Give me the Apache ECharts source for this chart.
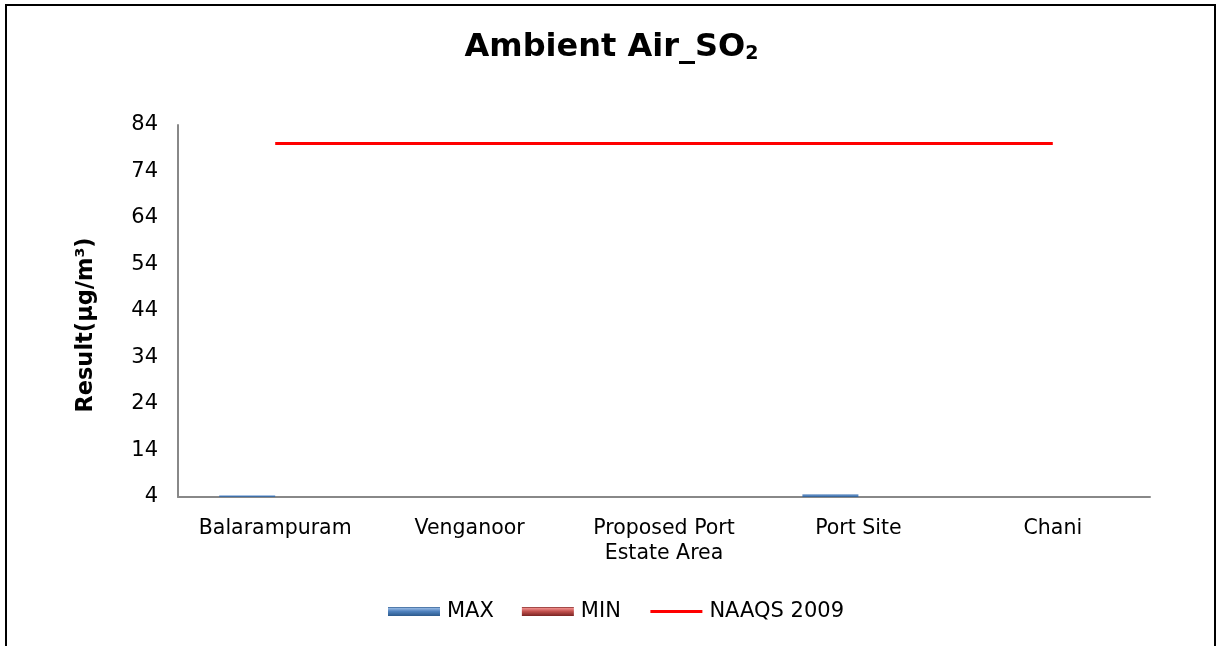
<!DOCTYPE html>
<html>
<head>
<meta charset="utf-8">
<script src="https://cdn.jsdelivr.net/npm/echarts@6/dist/echarts.min.js"></script>
<style>
html,body{margin:0;padding:0;background:#fff;}
#c{width:1223px;height:646px;}
</style>
</head>
<body>
<div id="c"></div>
<script>
const categories = ['Balarampuram', 'Venganoor', 'Proposed Port\nEstate Area', 'Port Site', 'Chani'];
const maxValues = [4.4, 4, 4, 4.6, 4];
const minValues = [4, 4, 4, 4, 4];
const naaqsValues = [80, 80, 80, 80, 80];
const yTicks = [4, 14, 24, 34, 44, 54, 64, 74, 84];

const FONT = '"DejaVu Sans", Verdana, sans-serif';
const chart = echarts.init(document.getElementById('c'), null, {renderer: 'canvas'});

function barGrad(light, mid, dark) {
  return new echarts.graphic.LinearGradient(0, 0, 0, 1, [
    {offset: 0, color: dark},
    {offset: 0.15, color: light},
    {offset: 0.5, color: mid},
    {offset: 1, color: dark}
  ]);
}

chart.setOption({
  animation: false,
  backgroundColor: '#fff',
  graphic: [{
    type: 'rect',
    shape: {x: 6, y: 5, width: 1209, height: 660},
    style: {fill: 'none', stroke: '#000', lineWidth: 2},
    silent: true
  }],
  title: {
    text: '{a|Ambient Air_SO}{s|2}',
    left: 'center',
    top: 19,
    textStyle: {
      rich: {
        a: {fontFamily: FONT, fontWeight: 'bold', fontSize: 32, color: '#000', verticalAlign: 'bottom', lineHeight: 40},
        s: {fontFamily: FONT, fontWeight: 'bold', fontSize: 19, color: '#000', verticalAlign: 'bottom', lineHeight: 30}
      }
    }
  },
  legend: {
    left: 383,
    top: 596,
    itemWidth: 52,
    itemHeight: 9,
    itemGap: 28,
    textStyle: {fontFamily: FONT, fontSize: 21, color: '#000', padding: [0, 0, 0, 2]},
    data: [
      {name: 'MAX', icon: 'rect'},
      {name: 'MIN', icon: 'rect'},
      {name: 'NAAQS 2009', itemStyle: {opacity: 0}, lineStyle: {width: 3, color: '#ff0000'}}
    ]
  },
  grid: {left: 178, right: 73, top: 125, bottom: 149},
  xAxis: {
    type: 'category',
    data: categories,
    axisLine: {lineStyle: {color: '#888', width: 2}},
    axisTick: {show: false},
    axisLabel: {fontFamily: FONT, fontSize: 20.5, color: '#000', margin: 19, lineHeight: 25, interval: 0}
  },
  yAxis: {
    type: 'value',
    min: 4,
    max: 84,
    name: 'Result(µg/m³)',
    nameLocation: 'middle',
    nameGap: 80,
    nameTextStyle: {fontFamily: FONT, fontSize: 22.5, fontWeight: 'bold', color: '#000', padding: [0, 28, 0, 0]},
    splitLine: {show: false},
    axisLine: {show: true, lineStyle: {color: '#888', width: 2}},
    axisTick: {show: false},
    axisLabel: {fontFamily: FONT, fontSize: 21, color: '#000', margin: 20, customValues: yTicks}
  },
  series: [
    {
      name: 'MAX', type: 'bar', data: maxValues, barWidth: 56, barGap: '0%',
      itemStyle: {color: barGrad('#8fb3e0', '#4f81bd', '#2c5a8c')}
    },
    {
      name: 'MIN', type: 'bar', data: minValues, barWidth: 56, barGap: '0%',
      itemStyle: {color: barGrad('#ec8a88', '#c0504d', '#7a2422')}
    },
    {
      name: 'NAAQS 2009', type: 'line', data: naaqsValues, symbol: 'none',
      lineStyle: {color: '#ff0000', width: 3}, itemStyle: {color: '#ff0000'}
    }
  ]
});
</script>
</body>
</html>
